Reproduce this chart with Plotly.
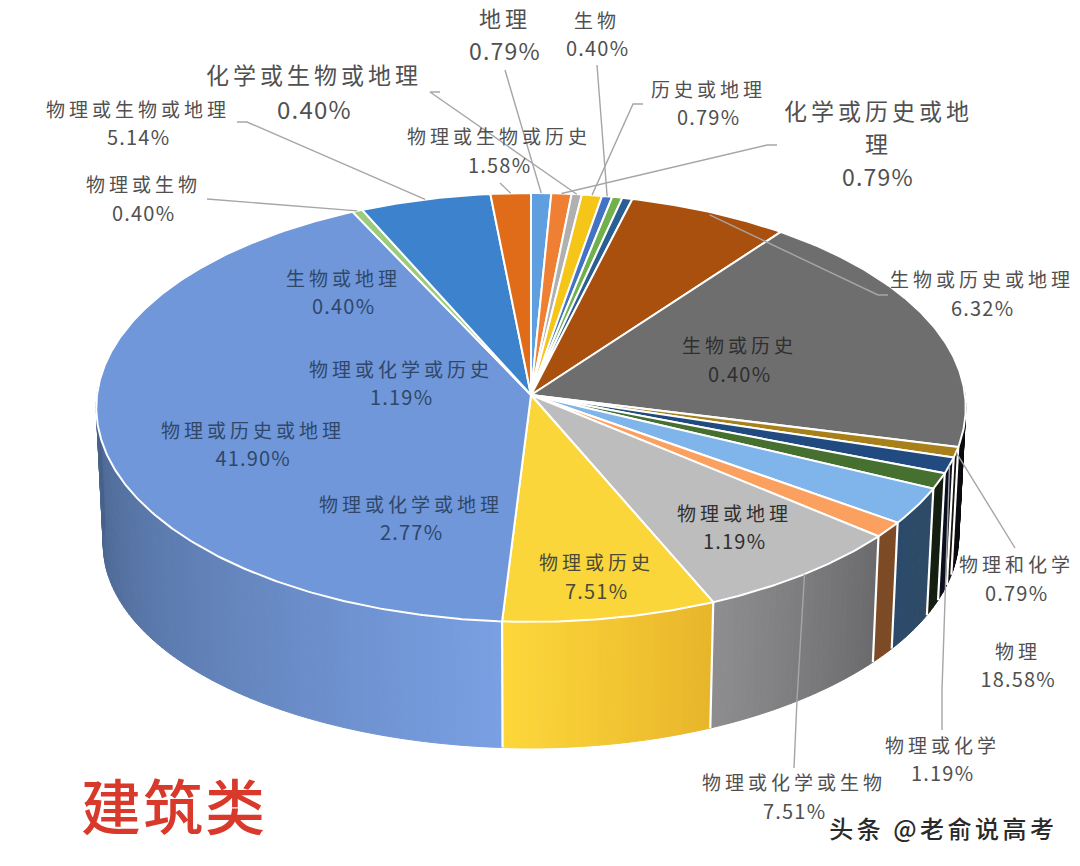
import math
import plotly.graph_objects as go

# ---- data (clockwise from 12 o'clock) ----
categories = ["地理", "化学或历史或地理", "化学或生物或地理", "历史或地理", "生物", "生物或地理", "生物或历史",
              "生物或历史或地理", "物理", "物理和化学", "物理或化学", "物理或化学或历史", "物理或化学或地理",
              "物理或地理", "物理或化学或生物", "物理或历史", "物理或历史或地理", "物理或生物",
              "物理或生物或地理", "物理或生物或历史"]
values = [0.79, 0.79, 0.40, 0.79, 0.40, 0.40, 0.40, 6.32, 18.58, 0.79, 1.19, 1.19, 2.77, 1.19, 7.51, 7.51,
          41.90, 0.40, 5.14, 1.58]
title_text = "建筑类"
watermark = "头条 @老俞说高考"

# ---- style ----
top_colors = ["#5f9fe0", "#ef7f33", "#b0b0b0", "#f5c518", "#4472c4", "#72b04c", "#2a5f94", "#a9500f",
              "#6e6e6e", "#a8801a", "#204a80", "#467030", "#7fb5ea", "#fba05f", "#bdbdbd", "#fbd63b",
              "#7097d9", "#9ccb7c", "#3c82cc", "#e06c1a"]
wall_left = ["#333", "#333", "#333", "#333", "#333", "#333", "#333", "#333",
             "#0c0c10", "#15130a", "#0b0e1c", "#131e10", "#2b4a6b", "#7d4a26", "#8e8e91", "#fdd73a",
             "#476189", "#476189", "#476189", "#476189"]
wall_right = ["#333", "#333", "#333", "#333", "#333", "#333", "#333", "#333",
              "#0c0c10", "#15130a", "#0b0e1c", "#131e10", "#2f4a66", "#7d4a26", "#6a6a6d", "#e8b52b",
              "#7aa0e4", "#476189", "#476189", "#476189"]

FONT = "Noto Sans CJK SC, Noto Sans, sans-serif"
OUTER = "#505050"
INNER_B = "#2f4769"
INNER_G = "#2f2f2f"

# label placement: index -> (x, name y, pct y, size, colour)
labels = {
    0: (505, 19, 52, 22, OUTER),
    4: (597, 21, 49, 19, OUTER),
    3: (708, 90, 118, 19, OUTER),
    2: (314, 76, 110, 23, OUTER),
    18: (138, 110, 138, 19, OUTER),
    17: (143, 185, 214, 19, OUTER),
    19: (499, 137, 166, 19, OUTER),
    7: (982, 280, 309, 19, OUTER),
    9: (1016, 565, 594, 19, OUTER),
    8: (1018, 652, 680, 19, OUTER),
    10: (942, 746, 774, 19, OUTER),
    14: (794, 783, 812, 19, OUTER),
    5: (343, 279, 307, 19, INNER_B),
    11: (401, 370, 398, 19, INNER_B),
    16: (253, 431, 459, 19, INNER_B),
    12: (411, 505, 533, 19, INNER_B),
    15: (596, 563, 592, 19, "#4a4a3a"),
    13: (734, 514, 542, 19, INNER_G),
    6: (739, 346, 375, 19, INNER_G),
}
# leader starts: index -> polyline start points before reaching the slice rim
leaders = {
    0: [(505, 70)],
    4: [(597, 65)],
    3: [(643, 104), (633, 104)],
    1: [(777, 145), (767, 145)],
    2: [(440, 92), (430, 92)],
    18: [(237, 122), (247, 122)],
    17: [(207, 199)],
    19: [(500, 183)],
    7: [(888, 295), (878, 295)],
    9: [(1015, 548)],
    10: [(942, 730), (942, 690)],
    14: [(794, 768), (797, 700)],
}

# ---- projection of the disc ----
CX, CY, A, B, K = 531, 395, 434, 213.7, 0.058
CYB, AB, BB = 533, 427, 202.5


def top(t):
    u, v = math.sin(t), math.cos(t)
    w = 1 + K * v
    return CX + A * u / w, CY - B * v / w


def bottom(t):
    u, v = math.sin(t), math.cos(t)
    w = 1 + K * v
    return CX + AB * u / w, CYB - BB * v / w - 8 * max(0.0, u) ** 2


def hex_rgb(h):
    h = h.lstrip("#")
    if len(h) == 3:
        h = "".join(c * 2 for c in h)
    return [int(h[i:i + 2], 16) for i in (0, 2, 4)]


def mix(a, b, f):
    ca, cb = hex_rgb(a), hex_rgb(b)
    return "rgb(%d,%d,%d)" % tuple(round(x + (y - x) * f) for x, y in zip(ca, cb))


total = sum(values)
edges = [0.0]
for v in values:
    edges.append(edges[-1] + v / total * 2 * math.pi)

traces = []
WALL_FROM = math.radians(88)
WALL_TO = math.radians(272)

# walls
for i, v in enumerate(values):
    a0, a1 = max(edges[i], WALL_FROM), min(edges[i + 1], WALL_TO)
    if a1 <= a0:
        continue
    n = max(2, int(math.degrees(a1 - a0)))
    for j in range(n):
        t0 = a0 + (a1 - a0) * j / n
        t1 = a0 + (a1 - a0) * (j + 1) / n
        # colour runs from the left end of the slice (its later angle) to the right end
        col = mix(wall_left[i], wall_right[i], 1 - (j + 0.5) / n)
        p = [top(t0), top(t1), bottom(t1), bottom(t0), top(t0)]
        traces.append(go.Scatter(x=[q[0] for q in p], y=[q[1] for q in p], mode="lines", fill="toself",
                                 fillcolor=col, line=dict(color=col, width=1), hoverinfo="skip"))
# wall separators
for e in edges:
    if WALL_FROM < e < WALL_TO:
        p = [top(e), bottom(e)]
        traces.append(go.Scatter(x=[q[0] for q in p], y=[q[1] for q in p], mode="lines",
                                 line=dict(color="white", width=2.2), hoverinfo="skip"))

# top slices
for i, v in enumerate(values):
    n = max(3, int(math.degrees(edges[i + 1] - edges[i]) * 2))
    xs, ys = [CX], [CY]
    for j in range(n + 1):
        x, y = top(edges[i] + (edges[i + 1] - edges[i]) * j / n)
        xs.append(x)
        ys.append(y)
    xs.append(CX)
    ys.append(CY)
    traces.append(go.Scatter(x=xs, y=ys, mode="lines", fill="toself", fillcolor=top_colors[i],
                             line=dict(color="white", width=2), name=categories[i], hoverinfo="name"))

# leaders
for i, pts in leaders.items():
    x, y = top((edges[i] + edges[i + 1]) / 2)
    if i == 7:
        y += 3
    xs = [q[0] for q in pts] + [x]
    ys = [q[1] for q in pts] + [y]
    traces.append(go.Scatter(x=xs, y=ys, mode="lines", line=dict(color="#a6a6a6", width=1.4), hoverinfo="skip"))

fig = go.Figure(traces)

ann = []


def text(x, y, s, size, color, weight=None):
    font = dict(family=FONT, size=size, color=color)
    if weight:
        font["weight"] = weight
    ann.append(dict(x=x, y=y - 2, text=s, showarrow=False, xanchor="center", yanchor="middle", font=font))


for i, (x, y1, y2, size, col) in labels.items():
    text(x, y1, categories[i], size, col)
    text(x, y2, f"{values[i]:.2f}%", size + 1, col)
# the wrapped label of slice 1
text(878, 112, "化学或历史或地", 23, OUTER)
text(878, 145, "理", 23, OUTER)
text(878, 178, f"{values[1]:.2f}%", 23, OUTER)
text(174, 805, title_text, 60, "#d8392b", 500)
text(943, 829, watermark, 24, "#2a2a2a", 500)

fig.update_layout(
    width=1080, height=866, margin=dict(l=0, r=0, t=0, b=0), autosize=False,
    paper_bgcolor="white", plot_bgcolor="white", showlegend=False,
    xaxis=dict(range=[0, 1080], visible=False, fixedrange=True),
    yaxis=dict(range=[866, 0], visible=False, fixedrange=True),
    annotations=ann,
)

post = """
document.documentElement.style.margin='0';document.body.style.margin='0';document.body.style.overflow='hidden';
document.querySelectorAll('.annotation-text').forEach(function(n){
  var s=n.textContent;
  n.style.letterSpacing = s.indexOf('%')>=0 ? '1.2px' : (s.indexOf('建')>=0 ? '2px' : (s.indexOf('头')>=0 ? '3.5px' : '4px'));
});
"""
fig.write_html("out.html", post_script=post, config={"displayModeBar": False})
